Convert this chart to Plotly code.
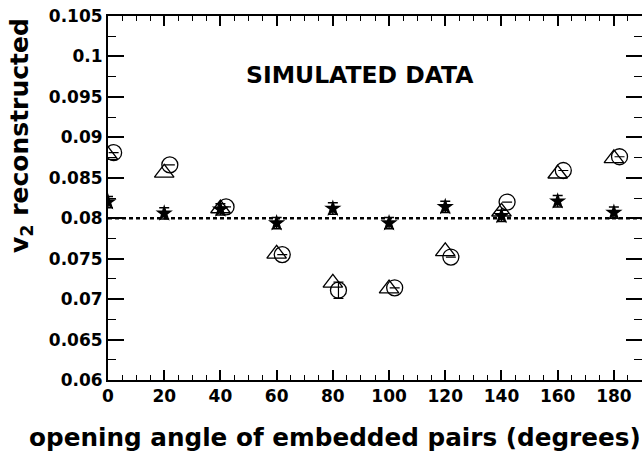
import plotly.graph_objects as go

angles = [0, 20, 40, 60, 80, 100, 120, 140, 160, 180]
v2_star = [0.0820, 0.0806, 0.0811, 0.0794, 0.0812, 0.0794, 0.0814, 0.0803, 0.0821, 0.0807]
v2_star_err = [0.0007] * 10
v2_triangle = [0.0878, 0.0856, 0.0812, 0.0756, 0.0720, 0.0713, 0.0759, 0.0808, 0.0855, 0.0874]
v2_circle = [0.0881, 0.0866, 0.0814, 0.0755, 0.0711, 0.0714, 0.0752, 0.0820, 0.0859, 0.0876]
v2_circle_err = [None, None, None, None, 0.0010, None, None, None, None, None]
circle_offset = 2
true_v2 = 0.08
x_ticks = [0, 20, 40, 60, 80, 100, 120, 140, 160, 180]
y_ticks = [0.06, 0.065, 0.07, 0.075, 0.08, 0.085, 0.09, 0.095, 0.1, 0.105]
y_tick_text = ["0.06", "0.065", "0.07", "0.075", "0.08", "0.085", "0.09", "0.095", "0.1", "0.105"]

FONT = "DejaVu Sans"

fig = go.Figure()

fig.add_trace(go.Scatter(
    x=[0, 190], y=[true_v2, true_v2], mode="lines",
    line=dict(color="black", width=2.5, dash="4px,3px"),
    showlegend=False, hoverinfo="skip"))

fig.add_trace(go.Scatter(
    x=angles, y=v2_triangle, mode="markers",
    marker=dict(symbol="triangle-up-open", size=17, color="black", line=dict(width=1.3, color="black")),
    showlegend=False))

fig.add_trace(go.Scatter(
    x=[a + circle_offset for a in angles], y=v2_circle, mode="markers",
    marker=dict(symbol="circle-open", size=16, color="black", line=dict(width=1.3, color="black")),
    error_y=dict(type="data", array=v2_circle_err, color="black", thickness=1.2, width=5),
    showlegend=False))

fig.add_trace(go.Scatter(
    x=angles, y=v2_star, mode="markers",
    marker=dict(symbol="star", size=13, color="black", line=dict(width=0)),
    error_y=dict(type="data", array=v2_star_err, color="black", thickness=1.5, width=5),
    showlegend=False))

fig.add_annotation(
    x=89.5, y=0.0977, xref="x", yref="y", text="<b>SIMULATED DATA</b>",
    showarrow=False, font=dict(family=FONT, size=23.5, color="black"))

fig.add_annotation(
    x=-108 / 534, y=(380 - 136) / 364, xref="paper", yref="paper",
    xanchor="left", yanchor="middle", xshift=3,
    text="<b>v<sub>2</sub> reconstructed</b>", textangle=-90,
    showarrow=False, font=dict(family=FONT, size=25, color="black"))

fig.add_annotation(
    x=(335 - 108) / 534, y=-(438 - 380) / 364, xref="paper", yref="paper",
    xanchor="center", yanchor="middle",
    text="<b>opening angle of embedded pairs (degrees)</b>",
    showarrow=False, font=dict(family=FONT, size=24.7, color="black"))

fig.update_layout(
    width=642, height=455,
    margin=dict(l=108, r=0, t=16, b=75, autoexpand=False),
    paper_bgcolor="white", plot_bgcolor="white",
    font=dict(family=FONT, color="black"),
    xaxis=dict(
        range=[0, 190], tickvals=x_ticks, ticks="inside", ticklen=10, tickwidth=1.5,
        tickcolor="black", showline=True, linecolor="black", linewidth=2, mirror="allticks",
        showgrid=False, zeroline=False, automargin=False,
        tickfont=dict(family=FONT, size=17, color="black", weight="bold"),
        minor=dict(dtick=5, tick0=0, ticks="inside", ticklen=5, tickwidth=1.2, tickcolor="black", showgrid=False),
    ),
    yaxis=dict(
        range=[0.06, 0.105], tickvals=y_ticks, ticktext=y_tick_text, ticks="inside",
        ticklen=16, tickwidth=1.5, tickcolor="black", showline=True, linecolor="black",
        linewidth=2, mirror="allticks", showgrid=False, zeroline=False, automargin=False,
        tickfont=dict(family=FONT, size=17, color="black", weight="bold"),
        minor=dict(dtick=0.0025, tick0=0.06, ticks="inside", ticklen=8, tickwidth=1.2, tickcolor="black", showgrid=False),
    ),
)

fig.write_html("out.html", config={"displayModeBar": False},
               post_script="document.body.style.margin='0';")
